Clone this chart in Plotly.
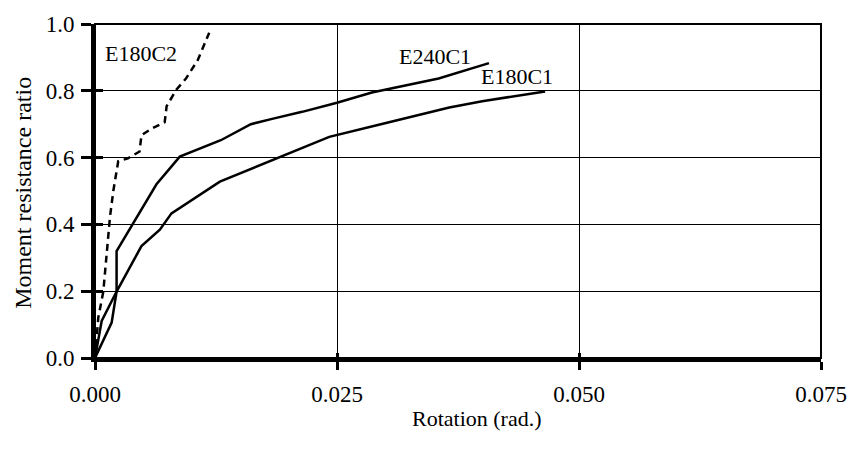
import plotly.graph_objects as go

# ---- data ----
e180c2_x = [0, 0.00034, 0.00086, 0.0012, 0.00155, 0.00189, 0.0024, 0.0034, 0.0046,
            0.0048, 0.0058, 0.0072, 0.0074, 0.0084, 0.0094, 0.0106, 0.0118]
e180c2_y = [0, 0.121, 0.199, 0.306, 0.423, 0.50, 0.589, 0.598, 0.618,
            0.667, 0.686, 0.706, 0.754, 0.803, 0.837, 0.891, 0.974]

e240c1_x = [0, 0.00172, 0.00223, 0.00223, 0.00635, 0.00876, 0.0130, 0.0161, 0.0183,
            0.0214, 0.025, 0.0286, 0.0355, 0.0407]
e240c1_y = [0, 0.106, 0.199, 0.32, 0.52, 0.603, 0.652, 0.70, 0.716,
            0.737, 0.764, 0.795, 0.837, 0.883]

e180c1_x = [0, 0.00069, 0.00223, 0.0048, 0.0067, 0.0079, 0.0129, 0.0187, 0.0242,
            0.029, 0.0366, 0.040, 0.0465]
e180c1_y = [0, 0.111, 0.199, 0.335, 0.384, 0.433, 0.528, 0.598, 0.662,
            0.696, 0.75, 0.769, 0.798]

x_ticks = [0.0, 0.025, 0.050, 0.075]
x_tick_labels = ["0.000", "0.025", "0.050", "0.075"]
y_ticks = [0.0, 0.2, 0.4, 0.6, 0.8, 1.0]
y_tick_labels = ["0.0", "0.2", "0.4", "0.6", "0.8", "1.0"]

labels = ["E180C2", "E240C1", "E180C1"]
label_x = [0.00474, 0.0351, 0.0436]
label_y = [0.912, 0.902, 0.842]

x_title = "Rotation (rad.)"
y_title = "Moment resistance ratio"

FONT = "Liberation Serif"
FS = 22

fig = go.Figure()
fig.add_trace(go.Scatter(x=e180c2_x, y=e180c2_y, mode="lines",
                         line=dict(color="black", width=2.5, dash="7px,5px"),
                         showlegend=False))
fig.add_trace(go.Scatter(x=e240c1_x, y=e240c1_y, mode="lines",
                         line=dict(color="black", width=2.5), showlegend=False))
fig.add_trace(go.Scatter(x=e180c1_x, y=e180c1_y, mode="lines",
                         line=dict(color="black", width=2.5), showlegend=False))
# invisible trace on overlay axes (for inside tick marks)
fig.add_trace(go.Scatter(x=[None], y=[None], xaxis="x2", yaxis="y2",
                         showlegend=False, hoverinfo="skip"))

for t, xx, yy in zip(labels, label_x, label_y):
    fig.add_annotation(x=xx, y=yy, text=t, showarrow=False,
                       font=dict(family=FONT, size=FS, color="black"))

fig.add_annotation(xref="paper", yref="paper", x=0.526, y=-0.181,
                   xanchor="center", yanchor="middle", text=x_title,
                   showarrow=False, font=dict(family=FONT, size=FS, color="black"))
fig.add_annotation(xref="paper", yref="paper", x=-0.099, y=0.495,
                   xanchor="center", yanchor="middle", text=y_title, textangle=-90,
                   showarrow=False, font=dict(family=FONT, size=24, color="black"))

fig.add_shape(type="rect", xref="paper", yref="paper", x0=0, y0=0, x1=1, y1=1,
              line=dict(color="black", width=2), layer="above")

fig.update_layout(
    width=859, height=449,
    margin=dict(l=95, r=36, t=16, b=91),
    plot_bgcolor="white", paper_bgcolor="white",
    font=dict(family=FONT, size=FS, color="black"),
    xaxis=dict(range=[0, 0.075], tickvals=x_ticks, ticktext=x_tick_labels,
               showgrid=True, gridcolor="black", gridwidth=1, zeroline=False,
               showline=True, linecolor="black", linewidth=4,
               ticks="outside", ticklen=8, tickwidth=3, tickcolor="black",
               ticklabelstandoff=4,
               tickfont=dict(family=FONT, size=23)),
    yaxis=dict(range=[0, 1.0], tickvals=y_ticks, ticktext=y_tick_labels,
               showgrid=True, gridcolor="black", gridwidth=1, zeroline=False,
               showline=True, linecolor="black", linewidth=4,
               ticks="outside", ticklen=10, tickwidth=3, tickcolor="black",
               ticklabelstandoff=2,
               tickfont=dict(family=FONT, size=23)),
    xaxis2=dict(overlaying="x", matches="x", range=[0, 0.075], tickvals=x_ticks,
                showticklabels=False, showgrid=False, zeroline=False,
                ticks="inside", ticklen=5, tickwidth=3, tickcolor="black",
                side="bottom"),
    yaxis2=dict(overlaying="y", matches="y", range=[0, 1.0], tickvals=y_ticks,
                showticklabels=False, showgrid=False, zeroline=False,
                ticks="inside", ticklen=8, tickwidth=3, tickcolor="black",
                side="left"),
)

fig.write_html("out.html")
